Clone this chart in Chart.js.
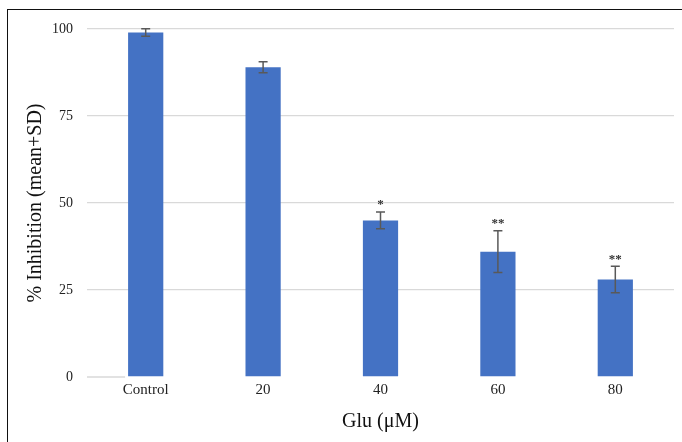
<!DOCTYPE html>
<html>
<head>
<meta charset="utf-8">
<script src="https://cdn.jsdelivr.net/npm/chart.js@4.4.0/dist/chart.umd.min.js"></script>
<style>
  html, body { margin: 0; padding: 0; background: #fff; }
  #wrap { position: relative; width: 682px; height: 442px; }
  #frame { position: absolute; left: 7px; top: 9px; right: -5px; bottom: -5px;
           border-left: 1.5px solid #111; border-top: 1.5px solid #111; pointer-events: none; }
</style>
</head>
<body>
<div id="wrap">
  <canvas id="chart" width="682" height="442"></canvas>
  <div id="frame"></div>
</div>
<script>
// data
var categories = ["Control", "20", "40", "60", "80"];
var means = [99, 89, 45, 36, 28];
var sd = [1.1, 1.6, 2.4, 6, 3.8];
var marks = ["", "", "*", "**", "**"];
var yTicks = [0, 25, 50, 75, 100];

var serif = "'Liberation Serif', 'DejaVu Serif', serif";

// draws the SD whiskers and significance stars
var errorBars = {
    id: 'errorBars',
    afterDatasetsDraw: function (chart) {
        var ctx = chart.ctx;
        var y = chart.scales.y;
        var meta = chart.getDatasetMeta(0);
        ctx.save();
        // short stub of the zero line left of the first bar
        var y0 = y.getPixelForValue(0);
        ctx.strokeStyle = '#d9d9d9';
        ctx.lineWidth = 1.3;
        ctx.beginPath();
        ctx.moveTo(chart.chartArea.left, y0);
        ctx.lineTo(meta.data[0].x - meta.data[0].width / 2 - 3, y0);
        ctx.stroke();
        meta.data.forEach(function (bar, i) {
            var x = bar.x;
            var top = y.getPixelForValue(means[i] + sd[i]);
            var bot = y.getPixelForValue(means[i] - sd[i]);
            ctx.strokeStyle = '#595959';
            ctx.lineWidth = 1.5;
            ctx.beginPath();
            ctx.moveTo(x, top); ctx.lineTo(x, bot);
            ctx.moveTo(x - 4.5, top); ctx.lineTo(x + 4.5, top);
            ctx.moveTo(x - 4.5, bot); ctx.lineTo(x + 4.5, bot);
            ctx.stroke();
            if (marks[i]) {
                ctx.fillStyle = '#333';
                ctx.font = "bold 13px " + serif;
                ctx.textAlign = 'center';
                ctx.textBaseline = 'middle';
                ctx.fillText(marks[i], x, top - 7);
            }
        });
        ctx.restore();
    }
};

var ctx = document.getElementById('chart').getContext('2d');
var chart = new Chart(ctx, {
    type: 'bar',
    data: {
        labels: categories,
        datasets: [{
            data: means,
            backgroundColor: '#4472C4',
            borderWidth: 0,
            barPercentage: 0.3,
            categoryPercentage: 1.0
        }]
    },
    options: {
        responsive: false,
        animation: false,
        layout: { padding: { top: 29, right: 8, left: 0, bottom: 0 } },
        plugins: { legend: { display: false }, tooltip: { enabled: false } },
        scales: {
            x: {
                grid: { display: false, drawTicks: false },
                border: { display: false },
                ticks: { color: '#222', font: { family: serif, size: 15 }, padding: 4 },
                title: { display: true, text: 'Glu (μM)', color: '#111',
                         font: { family: serif, size: 20 }, padding: { top: 4, bottom: 8 } },
                afterFit: function (s) { s.height = 65; }
            },
            y: {
                min: 0, max: 100,
                afterBuildTicks: function (s) {
                    s.ticks = yTicks.map(function (v) { return { value: v }; });
                },
                grid: {
                    color: function (c) { return c.tick && c.tick.value === 0 ? 'rgba(0,0,0,0)' : '#d9d9d9'; },
                    lineWidth: 1.3,
                    drawTicks: false
                },
                border: { display: false },
                ticks: { color: '#222', font: { family: serif, size: 14 }, padding: 14 },
                title: { display: true, text: '% Inhibition (mean+SD)', color: '#111',
                         font: { family: serif, size: 20 }, padding: { top: 24, bottom: 0 } },
                afterFit: function (s) { s.width = 87; }
            }
        }
    },
    plugins: [errorBars]
});
</script>
</body>
</html>
